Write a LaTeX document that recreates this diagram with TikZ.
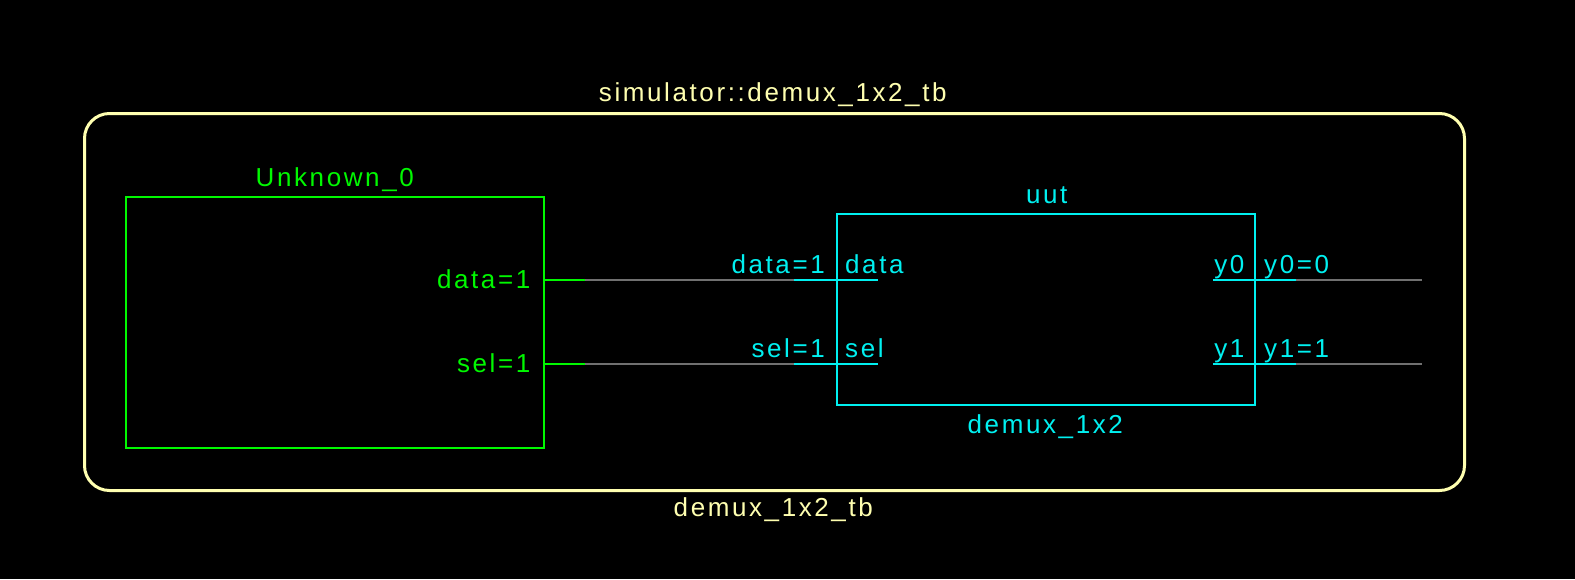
\documentclass[tikz,border=0pt]{standalone}
\usepackage{fontspec}
\setmainfont{Liberation Sans}[LetterSpace=10]
\definecolor{framecol}{HTML}{FFFFB0}
\definecolor{unkcol}{HTML}{00F800}
\definecolor{uutcol}{HTML}{00F0F0}
\definecolor{wirecol}{HTML}{707070}
\tikzset{
  lbl/.style={inner sep=0pt, font=\fontsize{26}{30}\selectfont},
  blk/.style={draw, line width=2pt, inner sep=0pt, anchor=north west},
  wire/.style={draw=wirecol, line width=2pt},
  stub/.style={line width=2pt}
}
\begin{document}
\begin{tikzpicture}[x=1pt,y=-1pt]
\useasboundingbox[fill=black] (0,0) rectangle (1575,579);
% testbench frame
\node[draw=framecol, line width=3pt, rounded corners=25pt, minimum width=1380pt, minimum height=377pt, inner sep=0pt, anchor=north west] (tb) at (83,112) {};
\node[lbl, text=framecol, anchor=base] (tbname) at (772.8,101.5) {simulator::demux\_1x2\_tb};
\node[lbl, text=framecol, anchor=base] (tbtype) at (773.3,516.5) {demux\_1x2\_tb};
% stimulus block
\node[blk, draw=unkcol, minimum width=417.5pt, minimum height=251pt] (unk) at (125,196) {};
\node[lbl, text=unkcol, anchor=base] (unkname) at (334.8,186) {Unknown\_0};
\node[lbl, text=unkcol, anchor=base east] (unkdata) at (530.5,288.5) {data=1};
\node[lbl, text=unkcol, anchor=base east] (unksel) at (530.5,372) {sel=1};
% unit under test
\node[blk, draw=uutcol, minimum width=418pt, minimum height=191.5pt] (uut) at (836,212.7) {};
\node[lbl, text=uutcol, anchor=base] (uutname) at (1046.8,203) {uut};
\node[lbl, text=uutcol, anchor=base] (uuttype) at (1045.3,433) {demux\_1x2};
\node[lbl, text=uutcol, anchor=base east] (netdata) at (825,273) {data=1};
\node[lbl, text=uutcol, anchor=base west] (pindata) at (845,273) {data};
\node[lbl, text=uutcol, anchor=base east] (netsel) at (825,357) {sel=1};
\node[lbl, text=uutcol, anchor=base west] (pinsel) at (845,357) {sel};
\node[lbl, text=uutcol, anchor=base east] (piny0) at (1244.5,273) {y0};
\node[lbl, text=uutcol, anchor=base west] (nety0) at (1264,273) {y0=0};
\node[lbl, text=uutcol, anchor=base east] (piny1) at (1244.5,357) {y1};
\node[lbl, text=uutcol, anchor=base west] (nety1) at (1264,357) {y1=1};
% wire ends
\coordinate (d0) at (unk.east |- 0,280);
\coordinate (d1) at (585,280);
\coordinate (d2) at (794,280);
\coordinate (d3) at (878,280);
\coordinate (s0) at (unk.east |- 0,364);
\coordinate (s1) at (585,364);
\coordinate (s2) at (794,364);
\coordinate (s3) at (878,364);
\coordinate (a0) at (1213,280);
\coordinate (a1) at (1296,280);
\coordinate (a2) at (1422,280);
\coordinate (b0) at (1213,364);
\coordinate (b1) at (1296,364);
\coordinate (b2) at (1422,364);
% nets
\draw[stub, unkcol] (d0) -- (d1);
\draw[wire] (d1) -- (d2);
\draw[stub, uutcol] (d2) -- (d3);
\draw[stub, unkcol] (s0) -- (s1);
\draw[wire] (s1) -- (s2);
\draw[stub, uutcol] (s2) -- (s3);
\draw[stub, uutcol] (a0) -- (a1);
\draw[wire] (a1) -- (a2);
\draw[stub, uutcol] (b0) -- (b1);
\draw[wire] (b1) -- (b2);
\end{tikzpicture}
\end{document}
